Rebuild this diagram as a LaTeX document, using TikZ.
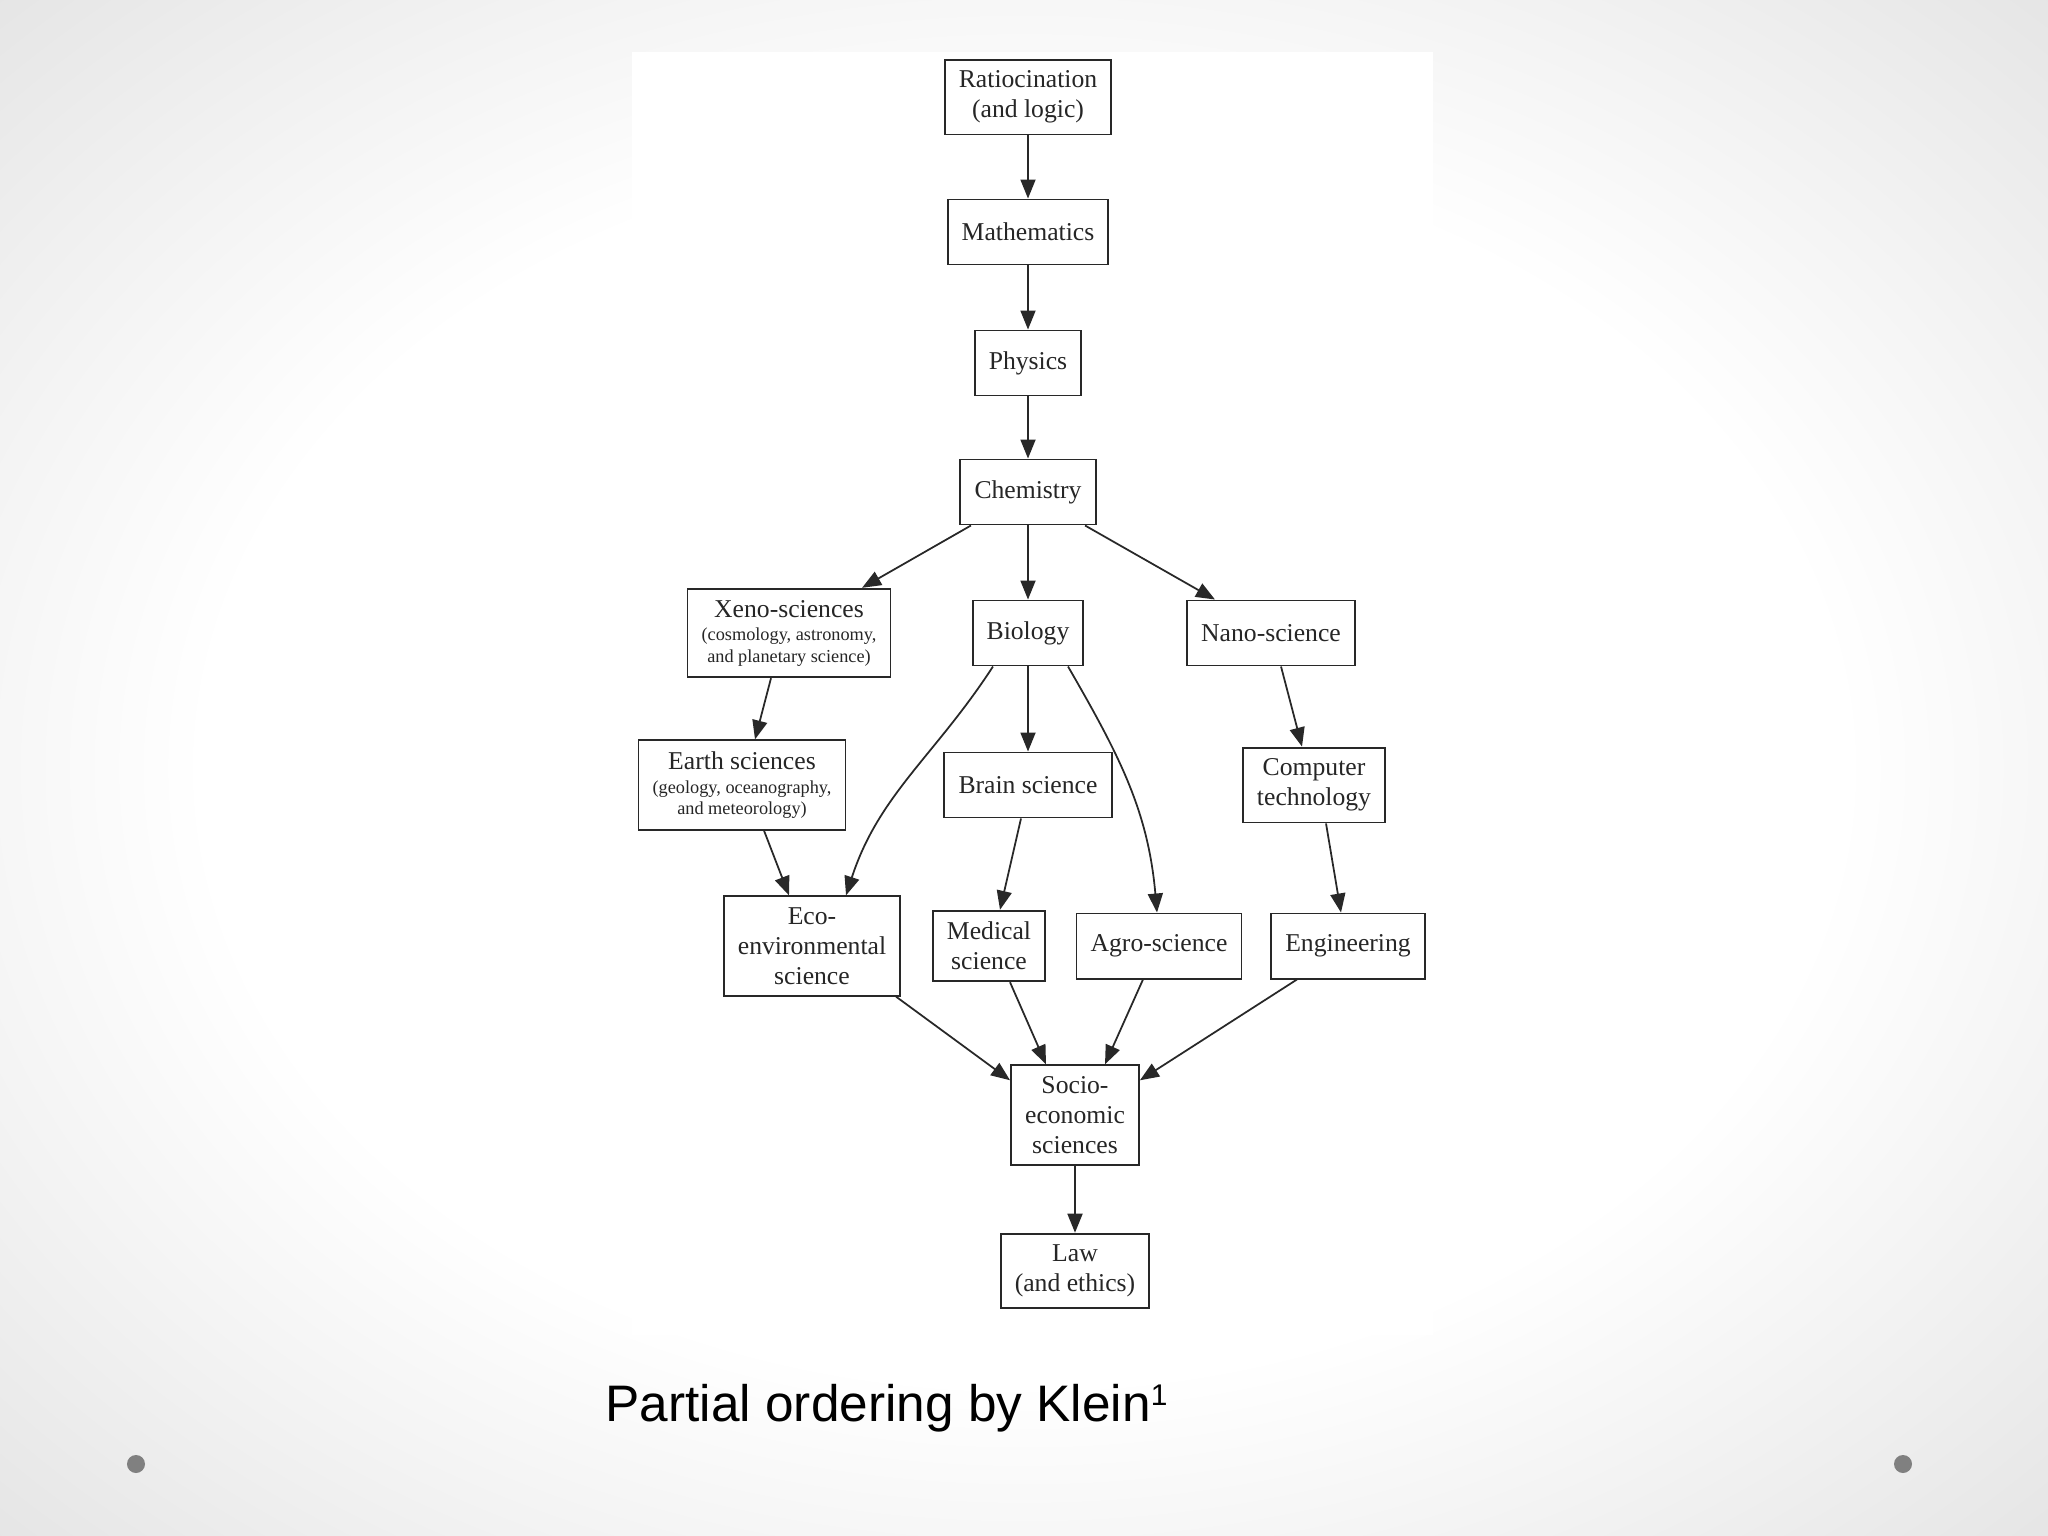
\documentclass[tikz,border=0pt]{standalone}
\usepackage{fontspec}
\setmainfont{Liberation Serif}
\newfontfamily\slidefont{Liberation Sans}
\usetikzlibrary{arrows.meta,positioning}
\definecolor{boxline}{RGB}{40,40,40}
\definecolor{slidegrey}{RGB}{205,205,205}
\definecolor{dotgrey}{RGB}{128,128,128}
\newcommand{\subtxt}{\fontsize{5.2}{6}\selectfont}
\pgfdeclareradialshading{slidebg}{\pgfpoint{0bp}{0bp}}{%
  color(0bp)=(white); color(20bp)=(white); color(50bp)=(slidegrey); color(72bp)=(slidegrey)}

\begin{document}
\begin{tikzpicture}[
    x=0.01cm, y=-0.01cm,
    field/.style={rectangle, draw=boxline, line width=0.55pt, fill=white,
        align=center, inner xsep=4pt, inner ysep=3.2pt, minimum height=0.65cm,
        font=\fontsize{7.3}{8.5}\selectfont, text=black!85},
    dep/.style={-{Triangle[length=0.19cm, width=0.15cm]}, line width=0.5pt, boxline}
]
    % slide and picture panel
    \shade[shading=slidebg] (0,0) rectangle (2048,1536);
    \fill[white] (632,52) rectangle (1433,1335);

    \node[field] (ratio) at (1028,97) {Ratiocination\\(and logic)};
    \node[field] (math)  at (1028,232) {Mathematics};
    \node[field] (phys)  at (1028,363) {Physics};
    \node[field] (chem)  at (1028,492) {Chemistry};

    \node[field] (xeno) at (789,633) {Xeno-sciences\\[-1.7pt]\subtxt (cosmology, astronomy,\\[-2.5pt]\subtxt and planetary science)};
    \node[field] (bio)  at (1028,633) {Biology};
    \node[field] (nano) at (1271,633) {Nano-science};

    \node[field] (earth) at (742,785) {Earth sciences\\[-1.7pt]\subtxt (geology, oceanography,\\[-2.5pt]\subtxt and meteorology)};
    \node[field] (brain) at (1028,785) {Brain science};
    \node[field] (comp)  at (1314,785) {Computer\\technology};

    \node[field] (eco)  at (812,946)  {Eco-\\environmental\\science};
    \node[field] (med)  at (989,946)  {Medical\\science};
    \node[field] (agro) at (1159,946) {Agro-science};
    \node[field] (eng)  at (1348,946) {Engineering};

    \node[field] (socio) at (1075,1115) {Socio-\\economic\\sciences};
    \node[field] (law)   at (1075,1271) {Law\\(and ethics)};

    \draw[dep] (ratio) -- (math);
    \draw[dep] (math) -- (phys);
    \draw[dep] (phys) -- (chem);
    \draw[dep] (chem) -- (bio);
    \draw[dep] ([xshift=-0.57cm]chem.south) -- ([xshift=0.73cm]xeno.north);
    \draw[dep] ([xshift=0.57cm]chem.south) -- ([xshift=-0.56cm]nano.north);

    \draw[dep] ([xshift=-0.18cm]xeno.south) -- ([xshift=0.13cm]earth.north);
    \draw[dep] ([xshift=0.22cm]earth.south) -- ([xshift=-0.23cm]eco.north);
    \draw[dep] ([xshift=-0.35cm]bio.south) to[out=237, in=72] ([xshift=0.34cm]eco.north);
    \draw[dep] (bio) -- (brain);
    \draw[dep] ([xshift=0.40cm]bio.south) to[out=-60, in=95] ([xshift=-0.02cm]agro.north);
    \draw[dep] ([xshift=-0.07cm]brain.south) -- ([xshift=0.11cm]med.north);
    \draw[dep] ([xshift=0.10cm]nano.south) -- ([xshift=-0.12cm]comp.north);
    \draw[dep] ([xshift=0.12cm]comp.south) -- ([xshift=-0.07cm]eng.north);

    \draw[dep] ([xshift=0.84cm]eco.south) -- ([yshift=-0.16cm]socio.north west);
    \draw[dep] ([xshift=0.21cm]med.south) -- ([xshift=-0.29cm]socio.north);
    \draw[dep] ([xshift=-0.16cm]agro.south) -- ([xshift=0.30cm]socio.north);
    \draw[dep] ([xshift=-0.51cm]eng.south) -- ([yshift=-0.16cm]socio.north east);
    \draw[dep] (socio) -- (law);

    \node[anchor=base west, inner sep=0pt, font=\slidefont\fontsize{14.6}{18}\selectfont] (caption)
        at (605,1421) {Partial ordering by Klein\raisebox{0.3em}{\fontsize{8.5}{9}\selectfont 1}};

    \fill[dotgrey] (136,1464) circle (0.09cm);
    \fill[dotgrey] (1903,1464) circle (0.09cm);
\end{tikzpicture}
\end{document}
